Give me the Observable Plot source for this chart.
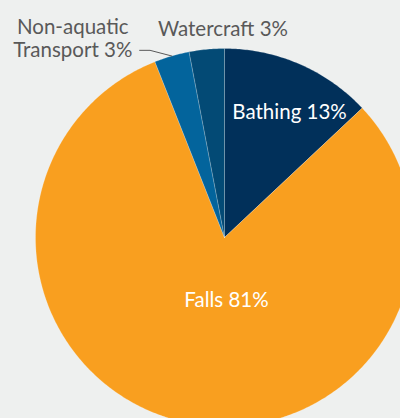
<!DOCTYPE html>
<html>
<head>
<meta charset="utf-8">
<script src="https://cdn.jsdelivr.net/npm/d3@7"></script>
<script src="https://cdn.jsdelivr.net/npm/@observablehq/plot@0.6"></script>
<style>
  html, body { margin: 0; padding: 0; background: #eef0ef; }
  #chart svg { display: block; background: #eef0ef; }
</style>
</head>
<body>
<div id="chart"></div>
<script>
// Data
const categories = ["Bathing", "Falls", "Non-aquatic Transport", "Watercraft"];
const shares = [13, 81, 3, 3];
const labels = ["Bathing 13%", "Falls 81%", "Non-aquatic\nTransport 3%", "Watercraft 3%"];
const colors = ["#01305a", "#f99f1f", "#03649c", "#034a75"];

const W = 400, H = 418;
const cx = 224, cy = 237, R = 189;

const rows = categories.map((c, i) => ({category: c, value: shares[i], label: labels[i]}));
const arcs = d3.pie().sort(null).value(d => d.value)(rows);

// slice polygons in unit coordinates (angle 0 at top, clockwise)
const pts = [];
arcs.forEach(a => {
  const c = a.data.category;
  pts.push({category: c, x: 0, y: 0});
  const n = Math.max(8, Math.ceil((a.endAngle - a.startAngle) / 0.01));
  for (let k = 0; k <= n; k++) {
    const t = a.startAngle + (a.endAngle - a.startAngle) * k / n;
    pts.push({category: c, x: Math.sin(t), y: Math.cos(t)});
  }
  pts.push({category: c, x: 0, y: 0});
});

const mid = a => (a.startAngle + a.endAngle) / 2;
// position at radius r along the mid angle, shifted by (px, py) pixels
const at = (a, r, px = 0, py = 0) => ({x: r * Math.sin(mid(a)) + px / R, y: r * Math.cos(mid(a)) - py / R});

const inside = [
  {...at(arcs[0], 0.72, 11, 0), text: arcs[0].data.label},
  {...at(arcs[1], 0.34, 16, 0), text: arcs[1].data.label}
];
const outsideTop = [{...at(arcs[3], 1.1, 18, -1), text: arcs[3].data.label}];
const na = at(arcs[2], 1.0);
const leader = [
  {x: na.x, y: na.y},
  {x: na.x - 0.115, y: na.y + 0.03},
  {x: na.x - 0.17, y: na.y + 0.03}
];
const naLabel = [{...at(arcs[2], 1.0, -99, -18), text: arcs[2].data.label}];

const chart = Plot.plot({
  width: W,
  height: H,
  margin: 0,
  style: {background: "#eef0ef", fontFamily: "Lato, 'Open Sans', sans-serif"},
  x: {domain: [-cx / R, (W - cx) / R], range: [0, W], axis: null},
  y: {domain: [-(H - cy) / R, cy / R], range: [H, 0], axis: null},
  color: {domain: categories, range: colors},
  marks: [
    Plot.line(pts, {x: "x", y: "y", z: "category", fill: "category", stroke: "white", strokeOpacity: 0.25, strokeWidth: 0.8, curve: "linear"}),
    Plot.text(inside, {x: "x", y: "y", text: "text", fill: "white", fontSize: 20.5}),
    Plot.text(outsideTop, {x: "x", y: "y", text: "text", fill: "#595959", fontSize: 20.5}),
    Plot.line(leader, {x: "x", y: "y", stroke: "#595959", strokeWidth: 1}),
    Plot.text(naLabel, {x: "x", y: "y", text: "text", textAnchor: "middle", fill: "#595959", fontSize: 20.5, lineHeight: 1.15})
  ]
});
document.getElementById("chart").appendChild(chart);
</script>
</body>
</html>
